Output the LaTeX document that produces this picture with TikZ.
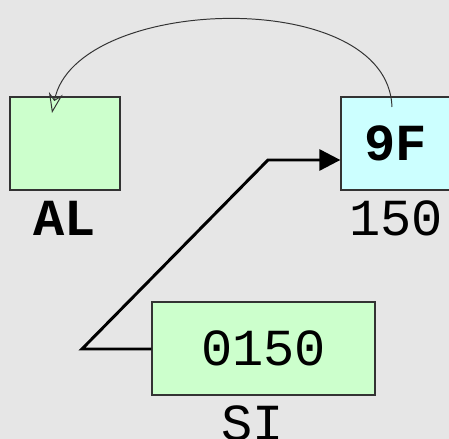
\documentclass[tikz,border=0pt]{standalone}
\usepackage{fontspec}
\newfontfamily\cour{Liberation Mono}
\usetikzlibrary{positioning,arrows.meta}
\definecolor{bg}{HTML}{E6E6E6}
\definecolor{regfill}{HTML}{CCFFCC}
\definecolor{memfill}{HTML}{CCFFFF}
\definecolor{edge}{HTML}{333333}
\tikzset{
  box/.style={draw=edge, line width=0.9pt, minimum height=23.25mm, inner sep=0pt,
    font=\cour\bfseries\fontsize{37}{40}\selectfont},
  lbl/.style={inner sep=0pt, font=\cour\fontsize{37}{40}\selectfont},
  wire/.style={line width=2.1pt, line join=miter},
}
\begin{document}
\begin{tikzpicture}[x=0.25cm,y=0.25cm]

\fill[bg] (0,0) rectangle (44.9,43.9);
\useasboundingbox (0,0) rectangle (44.9,43.9);

% register AL and memory cell
\node[box, fill=regfill, minimum width=27.5mm] (al) at (6.5,29.55) {};
\node[lbl, font=\cour\bfseries\fontsize{37}{40}\selectfont, below=2.5mm of al] (allbl) {AL};
\node[box, fill=memfill, minimum width=27.5mm] (mem) at (39.6,29.55) {9F};
\node[lbl, below=2.5mm of mem] (addr) {150};

% register SI
\node[box, fill=regfill, minimum width=55.75mm, font=\cour\fontsize{37}{40}\selectfont] (si) at (26.35,9.05) {0150};
\node[lbl, below=2.5mm of si, xshift=-2.8mm] (silbl) {SI};

% pointer
\coordinate (bendA) at (8.2,9.0);
\coordinate (bendB) at (26.8,27.9);
\draw[wire, -{Triangle[length=5.25mm,width=5.25mm]}] (si.west |- bendA) -- (bendA) -- (bendB) -- (mem.west |- bendB);

% copy into AL
\coordinate (from) at (39.2,33.2);
\coordinate (to) at (5.2,32.6);
\draw[edge, line width=0.7pt, -{Stealth[open,length=5mm,width=3.5mm]}] (from) .. controls (38.8,45.4) and (7.5,44.4) .. (to);

\end{tikzpicture}
\end{document}
